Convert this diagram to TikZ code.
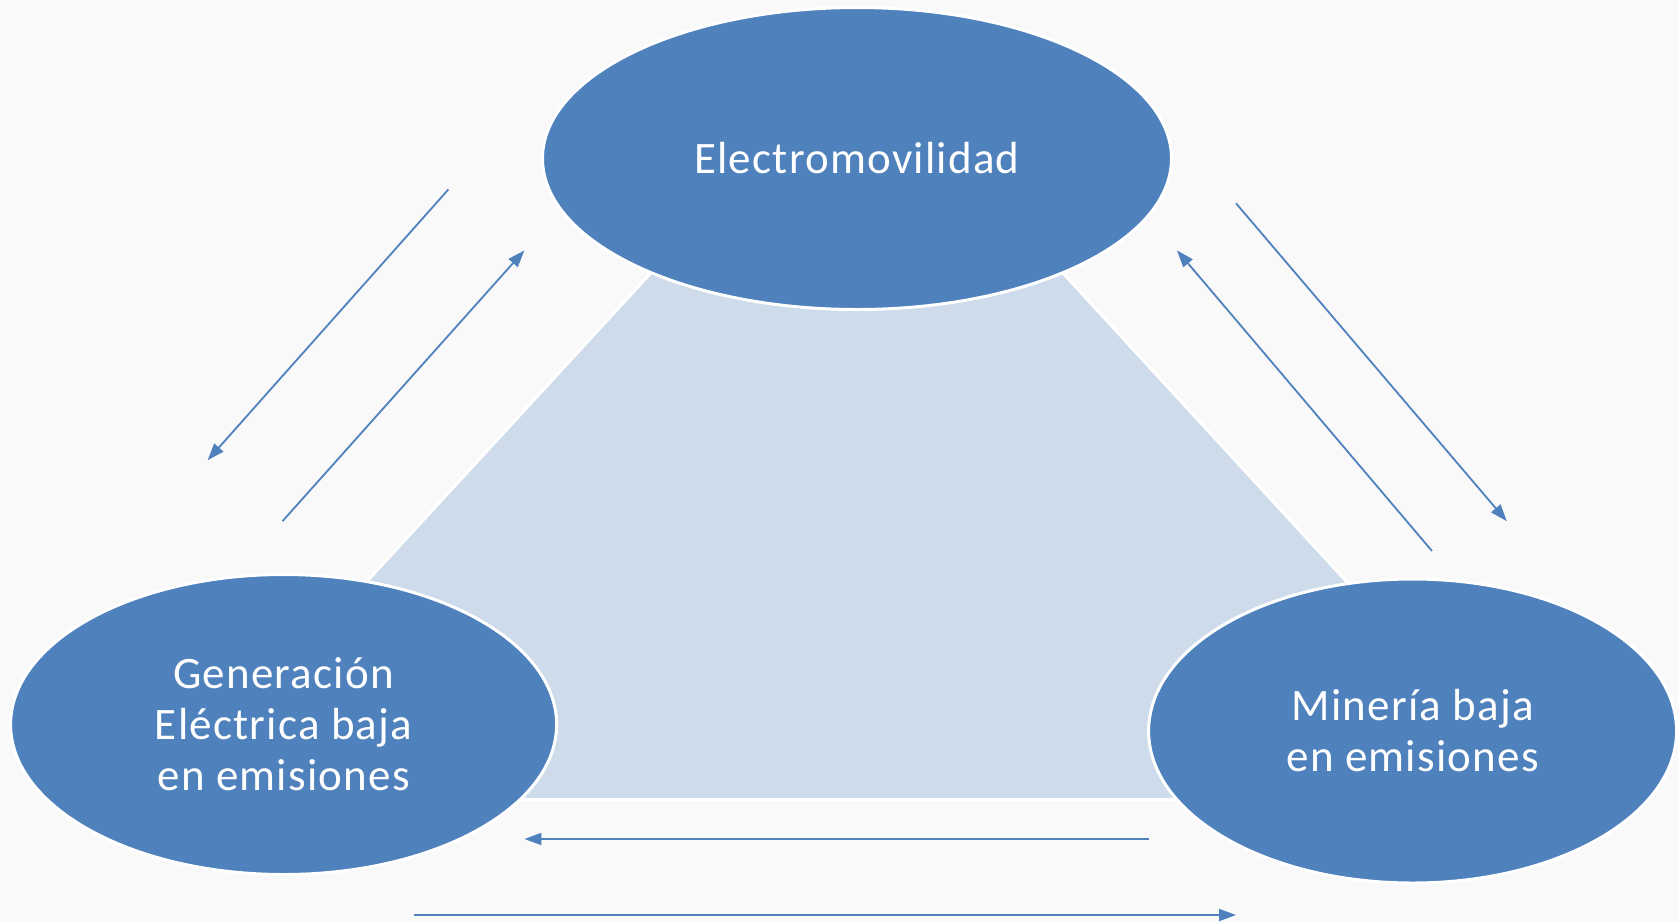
\documentclass[tikz,border=0pt]{standalone}
\usepackage{fontspec}
\setmainfont{Carlito}[LetterSpace=2.7]
\usetikzlibrary{shapes.geometric,arrows.meta}
\definecolor{bg}{HTML}{F9F9F9}
\definecolor{obl}{HTML}{4F81BD}
\definecolor{lbl}{HTML}{CDDBEA}
\begin{document}
\begin{tikzpicture}[x=1pt,y=-1pt,
  bub/.style={ellipse, fill=obl, draw=white, line width=3pt, text=white,
    align=center, inner sep=0pt,
    font=\fontsize{45}{51}\selectfont},
  conn/.style={draw=obl, line width=1.8pt, -{Triangle[length=17pt,width=12pt]}}]
\fill[bg] (0,0) rectangle (1678,922);
\useasboundingbox (0,0) rectangle (1678,922);
\filldraw[fill=lbl, draw=white, line width=3pt] (857,49) -- (166,799.5) -- (1547,799.5) -- cycle;
\node[bub, minimum width=629pt, minimum height=302pt] (em) at (857,158.5) {Electromovilidad};
\node[bub, minimum width=546pt, minimum height=300pt] (ge) at (283.6,724.5) {Generación\\Eléctrica baja\\en emisiones};
\node[bub, minimum width=528pt, minimum height=304pt] (mi) at (1412.6,731) {Minería baja\\en emisiones};
\coordinate (a1s) at (448.4,189.4); \coordinate (a1e) at (207.6,460.2);
\coordinate (a2s) at (282.5,521.2); \coordinate (a2e) at (524.4,250.4);
\coordinate (a3s) at (1236,203.3);  \coordinate (a3e) at (1506.8,521.2);
\coordinate (a4s) at (1432,551);    \coordinate (a4e) at (1177,250.4);
\coordinate (a5s) at (1149.4,839);  \coordinate (a5e) at (524.4,839);
\coordinate (a6s) at (414.2,915);   \coordinate (a6e) at (1236,915);
\draw[conn] (a1s) -- (a1e);
\draw[conn] (a2s) -- (a2e);
\draw[conn] (a3s) -- (a3e);
\draw[conn] (a4s) -- (a4e);
\draw[conn] (a5s) -- (a5e);
\draw[conn] (a6s) -- (a6e);
\end{tikzpicture}
\end{document}
